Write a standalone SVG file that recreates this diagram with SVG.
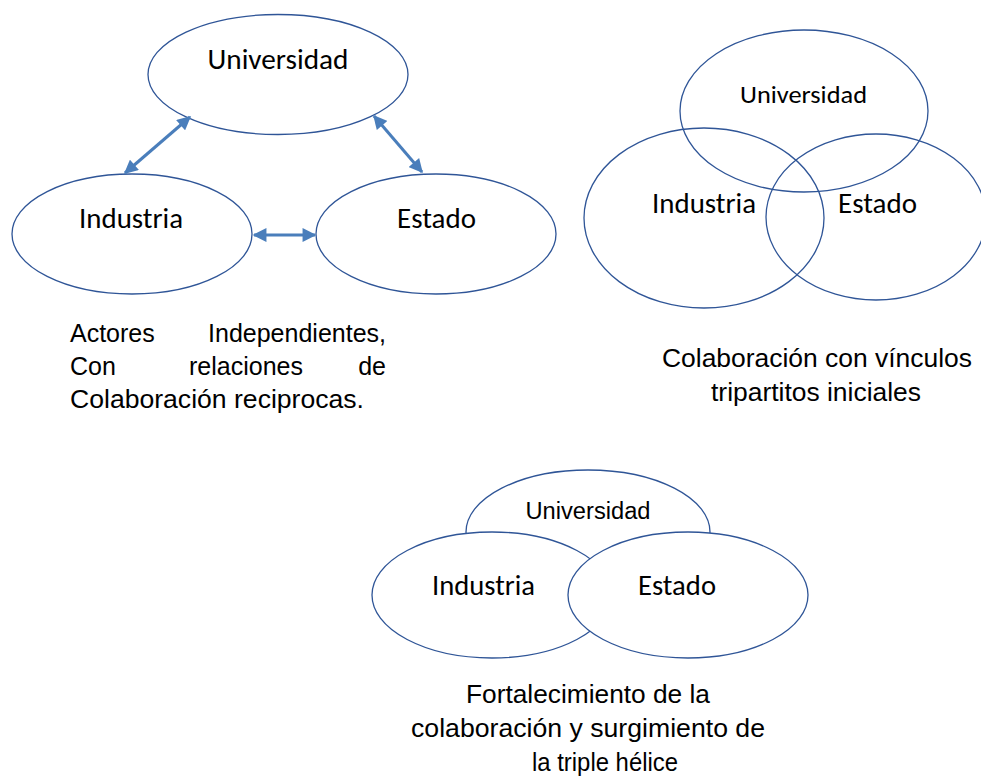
<svg xmlns="http://www.w3.org/2000/svg" width="981" height="779" viewBox="0 0 981 779">
<style>
.el{fill:#fff;stroke:#2f5597;stroke-width:1.3}
.eo{fill:none;stroke:#2f5597;stroke-width:1.3}
.cal{font-family:Carlito,Calibri,Lato,"Noto Sans",sans-serif;font-size:28.5px;fill:#000;text-anchor:middle}
.ar{font-family:"Liberation Sans",Arial,sans-serif;font-size:25px;fill:#000}
.arw{stroke:#4a7ebb;stroke-width:3;fill:none;marker-start:url(#ah);marker-end:url(#ah)}
</style>
<defs>
<marker id="ah" viewBox="0 0 10 10" refX="9" refY="5" markerWidth="4.8" markerHeight="4.6" orient="auto-start-reverse" markerUnits="strokeWidth">
<path d="M0,0 L10,5 L0,10 z" fill="#4a7ebb"/>
</marker>
</defs>
<rect width="981" height="779" fill="#fff"/>

<!-- Diagram 1 -->
<g id="d1-universidad">
<ellipse class="el" cx="278" cy="74.5" rx="130" ry="60"/>
<text class="cal" x="278" y="69" textLength="141" lengthAdjust="spacingAndGlyphs">Universidad</text>
</g>
<g id="d1-industria">
<ellipse class="el" cx="132" cy="234" rx="120" ry="60"/>
<text class="cal" x="131" y="228" textLength="104" lengthAdjust="spacingAndGlyphs">Industria</text>
</g>
<g id="d1-estado">
<ellipse class="el" cx="436" cy="234" rx="120" ry="60"/>
<text class="cal" x="436.5" y="228" textLength="79" lengthAdjust="spacingAndGlyphs">Estado</text>
</g>
<g id="connectors">
<line class="arw" x1="190" y1="117" x2="125" y2="173"/>
<line class="arw" x1="374" y1="116" x2="422" y2="172"/>
<line class="arw" x1="254" y1="235" x2="315" y2="235"/>
</g>
<g id="caption1" class="ar">
<text x="70" y="342">Actores</text>
<text x="386" y="342" text-anchor="end">Independientes,</text>
<text x="70" y="375">Con</text>
<text x="246" y="375" text-anchor="middle">relaciones</text>
<text x="386" y="375" text-anchor="end">de</text>
<text x="70" y="408" textLength="294" lengthAdjust="spacingAndGlyphs">Colaboración reciprocas.</text>
</g>

<!-- Diagram 2 -->
<g id="d2-universidad">
<ellipse class="eo" cx="804" cy="111" rx="124" ry="81"/>
<text class="cal" x="803.5" y="103" style="font-size:24px" textLength="127" lengthAdjust="spacingAndGlyphs">Universidad</text>
</g>
<g id="d2-industria">
<ellipse class="eo" cx="704" cy="218" rx="120" ry="90"/>
<text class="cal" x="704" y="213" textLength="104" lengthAdjust="spacingAndGlyphs">Industria</text>
</g>
<g id="d2-estado">
<ellipse class="eo" cx="876" cy="217" rx="110" ry="83"/>
<text class="cal" x="877.5" y="213" textLength="79" lengthAdjust="spacingAndGlyphs">Estado</text>
</g>
<g id="caption2" class="ar" text-anchor="middle">
<text x="817" y="367" textLength="310" lengthAdjust="spacingAndGlyphs">Colaboración con vínculos</text>
<text x="816" y="401" textLength="210" lengthAdjust="spacingAndGlyphs">tripartitos iniciales</text>
</g>

<!-- Diagram 3 -->
<g id="d3-universidad">
<ellipse class="el" cx="588" cy="532" rx="122" ry="62"/>
<text class="ar" x="588" y="519" text-anchor="middle" style="font-size:23.5px" textLength="125" lengthAdjust="spacingAndGlyphs">Universidad</text>
</g>
<g id="d3-industria">
<ellipse class="el" cx="492" cy="595" rx="120" ry="63"/>
<text class="cal" x="483.5" y="595" textLength="103" lengthAdjust="spacingAndGlyphs">Industria</text>
</g>
<g id="d3-estado">
<ellipse class="el" cx="688" cy="595" rx="120" ry="63"/>
<text class="cal" x="677" y="595" textLength="78" lengthAdjust="spacingAndGlyphs">Estado</text>
</g>
<g id="caption3" class="ar" text-anchor="middle">
<text x="588" y="703" textLength="244" lengthAdjust="spacingAndGlyphs">Fortalecimiento de la</text>
<text x="588" y="737" textLength="354" lengthAdjust="spacingAndGlyphs">colaboración y surgimiento de</text>
<text x="605" y="771" textLength="146" lengthAdjust="spacingAndGlyphs">la triple hélice</text>
</g>
</svg>
